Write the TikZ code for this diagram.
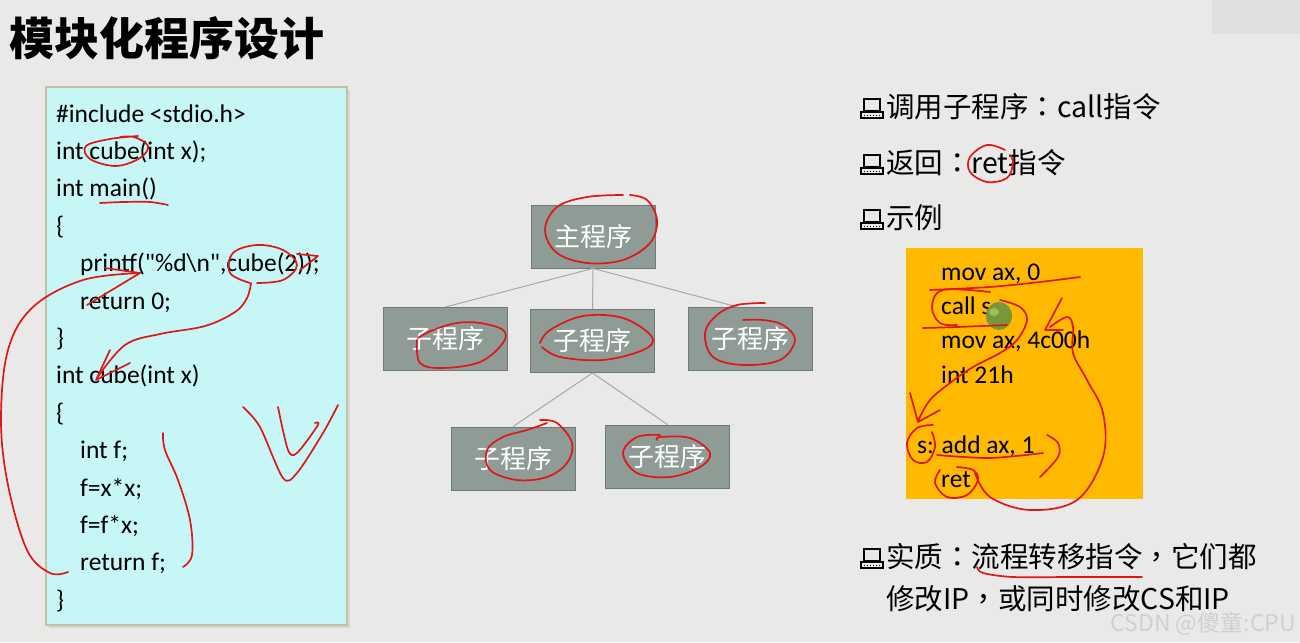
\documentclass[tikz,border=0pt]{standalone}
\usepackage{fontspec}
\setmainfont{Carlito}
\newfontfamily\cjk{Noto Sans CJK SC}
\newfontfamily\cjktc{Noto Sans CJK TC}
\newcommand\pc[1]{{\cjktc #1}}
\usetikzlibrary{calc}
\definecolor{bg}{RGB}{233,234,232}
\definecolor{blur}{RGB}{222,224,222}
\definecolor{shadow}{RGB}{215,215,210}
\definecolor{codebg}{RGB}{198,246,246}
\definecolor{codeline}{RGB}{196,192,166}
\definecolor{boxfill}{RGB}{143,155,149}
\definecolor{boxline}{RGB}{112,122,117}
\definecolor{treeline}{RGB}{165,168,166}
\definecolor{orangebg}{RGB}{255,185,0}
\definecolor{scr}{RGB}{222,24,24}
\definecolor{blob}{RGB}{118,152,58}
\definecolor{blobhi}{RGB}{160,190,80}
\definecolor{wm}{RGB}{208,208,208}
\tikzset{
  code/.style={anchor=base west, inner sep=0pt, font=\fontsize{25.5}{29}\selectfont},
  cn/.style={anchor=west, inner sep=0pt, font=\cjk\fontsize{28.5}{32}\selectfont},
  tbox/.style={draw=boxline, line width=0.8pt, fill=boxfill, minimum width=124pt, minimum height=63pt, inner sep=0pt, text=white, font=\cjk\fontsize{26}{30}\selectfont},
  tline/.style={draw=treeline, line width=1pt},
  scrib/.style={draw=scr, line width=1.7pt, line cap=round, line join=round},
  laptop/.pic={
    \draw[line width=1.2pt] (-8,-9) rectangle (8,3);
    \draw[line width=1.2pt] (-11,4) rectangle (11,10);
    \draw[line width=1pt, dotted] (-8,7) -- (8,7);
  }
}
\begin{document}
\begin{tikzpicture}[x=1pt,y=-1pt]
\fill[bg] (0,0) rectangle (1300,642);
\useasboundingbox (0,0) rectangle (1300,642);
\fill[blur] (1212,0) rectangle (1300,34);

% title
\node[anchor=west, inner sep=0pt] (title) at (9,38) {\cjk\bfseries\fontsize{45}{50}\selectfont 模块化程序设计};

% code box
\fill[shadow] (49,90) rectangle (350,628);
\node[draw=codeline, line width=2.5pt, fill=codebg, minimum width=301pt, minimum height=538pt, inner sep=0pt] (codebox) at (196.5,356) {};
\node[code] (c1) at (56,122) {\#include <stdio.h>};
\node[code] (c2) at (56,159.4) {int cube(int x);};
\node[code] (c3) at (56,196.8) {int main()};
\node[code] (c4) at (56,234.2) {\{};
\node[code] (c5) at (80,271.6) {printf(\textquotedbl\%d\textbackslash n\textquotedbl,cube(2));};
\node[code] (c6) at (80,309) {return 0;};
\node[code] (c7) at (56,346.4) {\}};
\node[code] (c8) at (56,383.8) {int cube(int x)};
\node[code] (c9) at (56,421.2) {\{};
\node[code] (c10) at (80,458.6) {int f;};
\node[code] (c11) at (80,496) {f=x*x;};
\node[code] (c12) at (80,533.4) {f=f*x;};
\node[code] (c13) at (80,570.8) {return f;};
\node[code] (c14) at (56,608.2) {\}};

% tree
\node[tbox] (m) at (593,236.5) {主程序};
\node[tbox] (s1) at (445,339) {子程序};
\node[tbox] (s2) at (592.5,341) {子程序};
\node[tbox] (s3) at (750,339) {子程序};
\node[tbox] (s4) at (513,458.5) {子程序};
\node[tbox] (s5) at (667.5,456.5) {子程序};
\draw[tline] (m.south) -- (s1.north);
\draw[tline] (m.south) -- (s2.north);
\draw[tline] (m.south) -- ($(s3.north)+(-12,0)$);
\draw[tline] (s2.south) -- (s4.north);
\draw[tline] (s2.south) -- (s5.north);

% right text
\pic at (872,108) {laptop};
\pic at (872,164) {laptop};
\pic at (872,219) {laptop};
\pic at (872,558) {laptop};
\node[cn] (r1) at (886,107) {调用子程序\pc{：}call指令};
\node[cn] (r2) at (886,163) {返回\pc{：}ret指令};
\node[cn] (r3) at (886,218) {示例};
\node[cn] (r4) at (886,557) {实质\pc{：}流程转移指令\pc{，}它们都};
\node[cn] (r5) at (886,599) {修改IP\pc{，}或同时修改CS和IP};

% orange example box
\node[fill=orangebg, minimum width=237pt, minimum height=251pt, inner sep=0pt] (ex) at (1024.5,373.5) {};
\node[code] (e1) at (941,280) {mov ax, 0};
\node[code] (e2) at (941,314) {call s};
\node[code] (e3) at (941,348) {mov ax, 4c00h};
\node[code] (e4) at (941,383) {int 21h};
\node[code] (e5) at (917,453) {s: add ax, 1};
\node[code] (e6) at (941,487) {ret};
\fill[blob] (999,316) ellipse (13 and 14);
\fill[blobhi] (994,312) ellipse (5 and 4);

% watermark
\node[anchor=east, inner sep=0pt, text=wm] (wmk) at (1296,624) {\cjk\fontsize{23}{26}\selectfont CSDN @傻童:CPU};

% ---- red annotations ----
% code box
\draw[scrib] plot[smooth, tension=0.6] coordinates {(138,136) (110,139) (86,146) (90,159) (116,166) (140,158) (148,146) (134,137) (120,137)};
\draw[scrib] plot[smooth] coordinates {(100,203) (123,202) (150,202) (168,205)};
\draw[scrib] (105,268) -- (140,273) -- (87,305);
\draw[scrib] plot[smooth, tension=0.6] coordinates {(68,572) (50,573) (27,550) (8,485) (1,420) (8,350) (33,307) (83,280) (140,273)};
\draw[scrib] plot[smooth, tension=0.6] coordinates {(250,283) (230,273) (233,253) (257,245) (283,250) (297,265) (283,280) (257,283)};
\draw[scrib] (297,254) -- (318,256) -- (300,270);
\draw[scrib] plot[smooth, tension=0.6] coordinates {(251,283) (247,298) (235,312) (205,326) (160,334) (125,345) (97,378)};
\draw[scrib] (110,350) -- (96,380) -- (130,363);
\draw[scrib] plot[smooth, tension=0.6] coordinates {(163,433) (165,450) (178,480) (190,520) (192,555) (183,567)};
\draw[scrib] plot[smooth, tension=0.5] coordinates {(243,407) (260,427) (283,478) (297,473) (323,433) (338,405)};
\draw[scrib] plot[smooth, tension=0.5] coordinates {(278,407) (288,450) (297,453) (318,425) (315,423)};
% tree
\draw[scrib] plot[smooth, tension=0.6] coordinates {(623,195) (587,197) (557,207) (545,230) (557,253) (587,263) (623,260) (650,243) (657,220) (647,200) (630,195)};
\draw[scrib] plot[smooth, tension=0.6] coordinates {(417,340) (420,363) (443,368) (480,362) (503,343) (503,330) (480,323) (457,323) (433,330) (418,338)};
\draw[scrib] plot[smooth, tension=0.6] coordinates {(540,343) (550,330) (583,316) (623,318) (652,337) (643,350) (603,360) (560,357) (542,347)};
\draw[scrib] plot[smooth, tension=0.6] coordinates {(765,303) (737,305) (717,315) (705,333) (713,357) (743,365) (780,360) (795,340) (783,325) (763,320) (743,320)};
\draw[scrib] plot[smooth, tension=0.6] coordinates {(540,420) (557,423) (572,443) (567,463) (547,477) (517,480) (490,470) (487,450) (503,437) (527,430) (547,423)};
\draw[scrib] plot[smooth, tension=0.6] coordinates {(657,440) (660,437) (690,438) (710,453) (700,467) (670,477) (637,473) (623,453) (637,437) (660,435)};
% right side
\draw[scrib] plot[smooth, tension=0.6] coordinates {(1005,150) (987,145) (970,157) (970,172) (987,182) (1007,178) (1013,163) (1010,155)};
\draw[scrib] plot[smooth] coordinates {(930,290) (990,287) (1040,282) (1080,277)};
\draw[scrib] plot[smooth] coordinates {(923,328) (957,327) (1007,325)};
\draw[scrib] plot[smooth, tension=0.6] coordinates {(990,292) (943,290) (932,307) (940,323) (957,325)};
\draw[scrib] plot[smooth, tension=0.6] coordinates {(1000,300) (1020,307) (1027,320) (1017,340) (1000,353) (973,367) (950,383) (930,400) (918,421)};
\draw[scrib] (910,393) -- (918,422) -- (940,410);
\draw[scrib] plot[smooth, tension=0.6] coordinates {(933,425) (917,428) (907,443) (913,460) (927,462) (935,447) (932,432)};
\draw[scrib] plot[smooth] coordinates {(937,455) (990,458) (1043,453)};
\draw[scrib] plot[smooth, tension=0.6] coordinates {(940,470) (935,483) (947,497) (967,495) (978,480) (973,470) (957,467)};
\draw[scrib] plot[smooth, tension=0.6] coordinates {(975,473) (990,497) (1030,510) (1077,500) (1103,457) (1103,413) (1087,380) (1073,353) (1073,327) (1067,317) (1050,327)};
\draw[scrib] (1062,298) -- (1045,330) -- (1063,330);
\draw[scrib] plot[smooth, tension=0.6] coordinates {(1047,435) (1058,443) (1058,457) (1040,477)};
\draw[scrib] plot[smooth] coordinates {(977,567) (983,573) (1013,577) (1073,577) (1142,577)};
\end{tikzpicture}
\end{document}
